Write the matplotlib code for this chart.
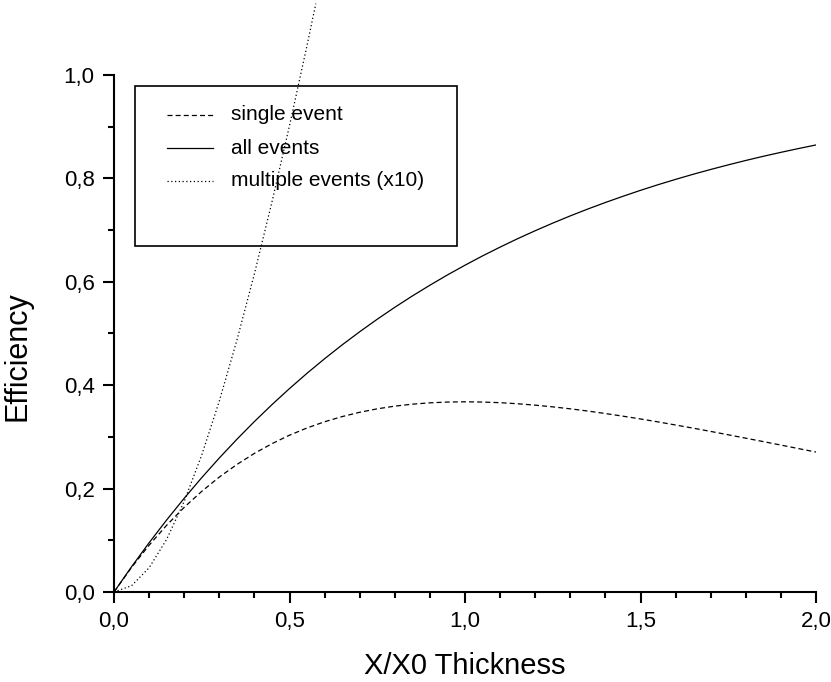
import numpy as np
import matplotlib as mpl
mpl.use('Agg')
import matplotlib.pyplot as plt
import matplotlib.ticker as mticker
from matplotlib.patches import Rectangle
from matplotlib.lines import Line2D

plt.rcParams['font.family'] = ['Liberation Sans', 'DejaVu Sans']

# Values
x = [0.00, 0.05, 0.10, 0.15, 0.20, 0.25, 0.30, 0.35, 0.40, 0.45,
     0.50, 0.55, 0.60, 0.65, 0.70, 0.75, 0.80, 0.85, 0.90, 0.95,
     1.00, 1.05, 1.10, 1.15, 1.20, 1.25, 1.30, 1.35, 1.40, 1.45,
     1.50, 1.55, 1.60, 1.65, 1.70, 1.75, 1.80, 1.85, 1.90, 1.95, 2.00]

single_event = [0.0000, 0.0476, 0.0905, 0.1291, 0.1638, 0.1947, 0.2223, 0.2466, 0.2681, 0.2869,
                0.3033, 0.3173, 0.3293, 0.3393, 0.3476, 0.3543, 0.3595, 0.3633, 0.3659, 0.3674,
                0.3679, 0.3674, 0.3662, 0.3641, 0.3614, 0.3581, 0.3543, 0.3500, 0.3452, 0.3401,
                0.3347, 0.3290, 0.3230, 0.3169, 0.3106, 0.3041, 0.2975, 0.2909, 0.2842, 0.2774, 0.2707]

all_events = [0.0000, 0.0488, 0.0952, 0.1393, 0.1813, 0.2212, 0.2592, 0.2953, 0.3297, 0.3624,
              0.3935, 0.4231, 0.4512, 0.4780, 0.5034, 0.5276, 0.5507, 0.5726, 0.5934, 0.6133,
              0.6321, 0.6501, 0.6671, 0.6834, 0.6988, 0.7135, 0.7275, 0.7408, 0.7534, 0.7654,
              0.7769, 0.7878, 0.7981, 0.8080, 0.8173, 0.8262, 0.8347, 0.8428, 0.8504, 0.8577, 0.8647]

x_multi = [0.00, 0.05, 0.10, 0.15, 0.20, 0.25, 0.30, 0.35, 0.40, 0.45, 0.50, 0.55, 0.575]
multiple_x10 = [0.0000, 0.0121, 0.0468, 0.1018, 0.1752, 0.2650, 0.3693, 0.4867, 0.6155,
                0.7544, 0.9020, 1.0573, 1.1380]

labels = ["single event", "all events", "multiple events (x10)"]

fig = plt.figure(figsize=(8.31, 6.82), dpi=100)
ax = fig.add_axes([114/831, 1 - 592/682, 702/831, 517/682])

lw = 0.9
ax.plot(x, single_event, color='black', lw=lw, linestyle=(0, (4, 2.5)))
ax.plot(x, all_events, color='black', lw=lw, linestyle='-')
ax.plot(x_multi, multiple_x10, color='black', lw=lw, linestyle=(0, (1, 2)), clip_on=False)

ax.set_xlim(0, 2.0)
ax.set_ylim(0, 1.0)

for s in ['top', 'right']:
    ax.spines[s].set_visible(False)
for s in ['left', 'bottom']:
    ax.spines[s].set_linewidth(1.5)

ax.xaxis.set_major_locator(mticker.MultipleLocator(0.5))
ax.xaxis.set_minor_locator(mticker.MultipleLocator(0.1))
ax.yaxis.set_major_locator(mticker.MultipleLocator(0.2))
ax.yaxis.set_minor_locator(mticker.MultipleLocator(0.1))
fmt = mticker.FuncFormatter(lambda v, p: ("%.1f" % v).replace('.', ','))
ax.xaxis.set_major_formatter(fmt)
ax.yaxis.set_major_formatter(fmt)
ax.tick_params(which='major', direction='out', length=8, width=1.5, labelsize=16, pad=6)
ax.tick_params(which='minor', direction='out', length=4.5, width=1.5)

ax.set_xlabel("X/X0 Thickness", fontsize=21, labelpad=14)
ax.set_ylabel("Efficiency", fontsize=22)
# label sits a little below the axis middle in the reference
ax.yaxis.set_label_coords(-0.1154, 0.456)

# legend box drawn by hand to match the tall frame
ax.add_patch(Rectangle((0.030, 0.669), 0.459, 0.310, transform=ax.transAxes,
                       fill=False, edgecolor='black', lw=1.2, clip_on=False))
styles = [(0, (4, 2.5)), '-', (0, (1, 2))]
ys = [(592 - 115)/517, (592 - 148)/517, (592 - 181)/517]
for lab, st, yy in zip(labels, styles, ys):
    ax.add_line(Line2D([(167-114)/702, (213-114)/702], [yy, yy], transform=ax.transAxes,
                       color='black', lw=lw, linestyle=st))
    ax.text((231-114)/702, yy, lab, transform=ax.transAxes, fontsize=15, va='center', ha='left')

fig.savefig("out.png", dpi=100)
